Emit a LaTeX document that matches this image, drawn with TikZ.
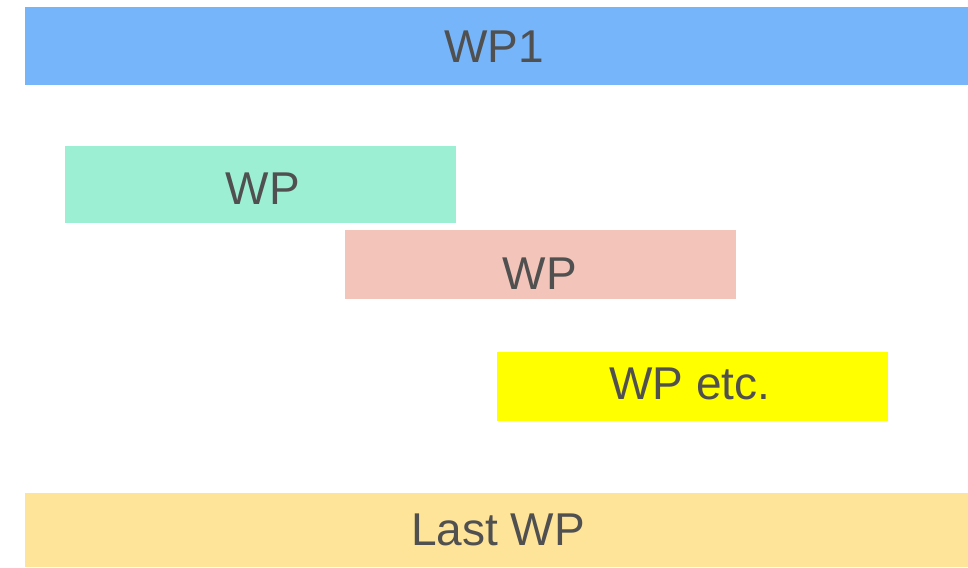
\documentclass[tikz,border=0pt]{standalone}
\usepackage{fontspec}
\setmainfont{Liberation Sans}
\definecolor{wpblue}{HTML}{77B5FA}
\definecolor{wpgreen}{HTML}{9DEFD4}
\definecolor{wppink}{HTML}{F3C4B9}
\definecolor{wpyellow}{HTML}{FFFF00}
\definecolor{wpsand}{HTML}{FEE499}
\definecolor{wptext}{HTML}{505050}
\begin{document}
\begin{tikzpicture}[x=1pt,y=-1pt,
  bar/.style={inner sep=0pt, outer sep=0pt},
  lbl/.style={anchor=base, inner sep=0pt, text=wptext, font=\fontsize{46}{50}\selectfont}]
\useasboundingbox (0,0) rectangle (968,567);
% work package bars
\path[fill=wpblue]   (25,7)    rectangle (968,85)  node[bar] (wp1box) {};
\path[fill=wpgreen]  (65,146)  rectangle (456,223) node[bar] (wp2box) {};
\path[fill=wppink]   (345,230) rectangle (736,299) node[bar] (wp3box) {};
\path[fill=wpyellow] (497,352) rectangle (888,421) node[bar] (wp4box) {};
\path[fill=wpsand]   (25,493)  rectangle (968,567) node[bar] (wp5box) {};
% labels
\node[lbl] (wp1) at (494,63)  {WP1};
\node[lbl] (wp2) at (263,204) {WP};
\node[lbl] (wp3) at (540,289) {WP};
\node[lbl] (wp4) at (690,399) {WP etc.};
\node[lbl] (wp5) at (498,545) {Last WP};
\end{tikzpicture}
\end{document}
